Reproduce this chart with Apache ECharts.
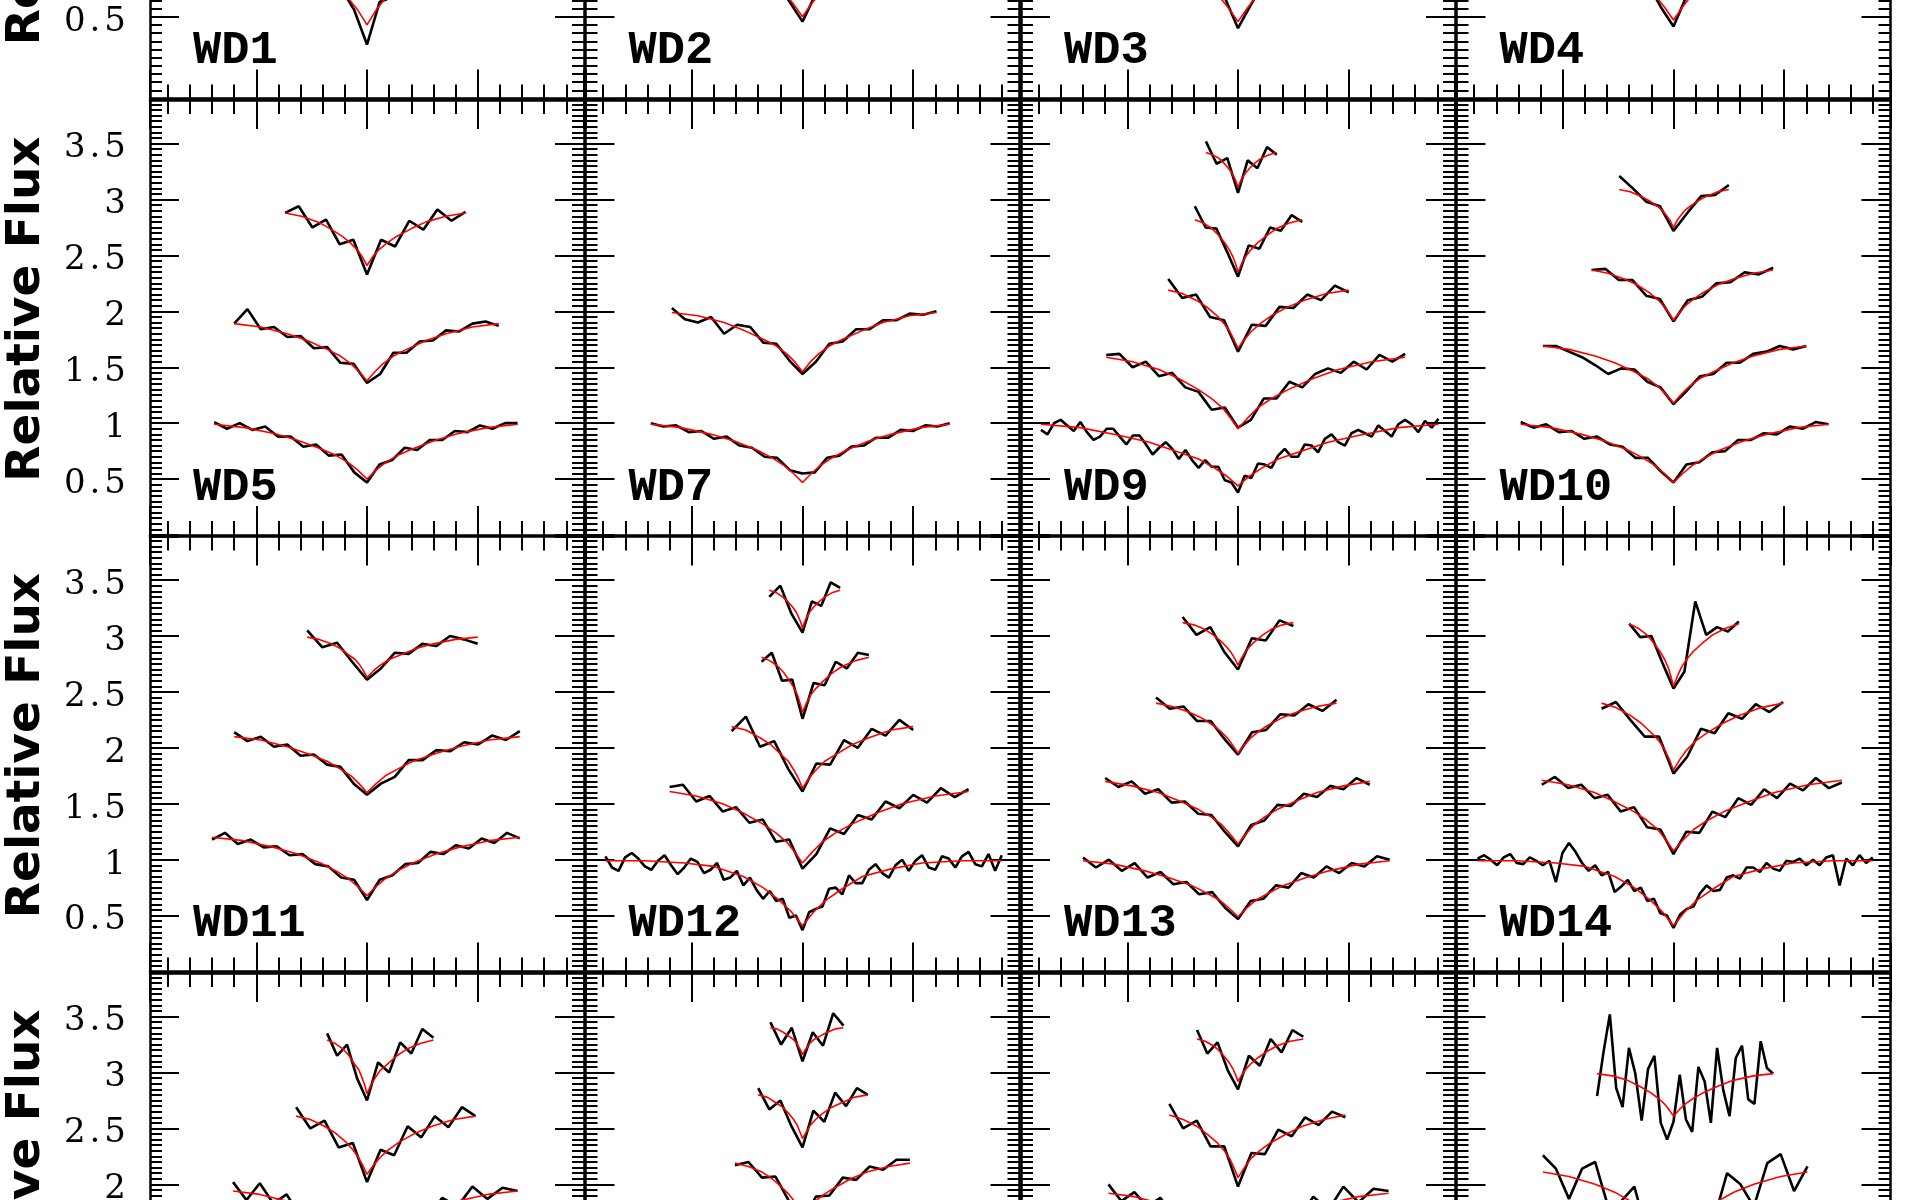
<!DOCTYPE html>
<html><head><meta charset="utf-8">
<script src="https://cdn.jsdelivr.net/npm/echarts@6/dist/echarts.min.js"></script>
<style>html,body{margin:0;padding:0;background:#fff;overflow:hidden}#c{width:1920px;height:1200px}</style>
</head><body><div id="c"></div>
<script>
// ---- data (x offsets from line centre; [xStart, xEnd, index of centre sample]) ----
const FIT_U = [-1,-0.8,-0.6,-0.45,-0.3,-0.2,-0.12,-0.06,0,0.06,0.12,0.2,0.3,0.45,0.6,0.8,1];

const WD1_X = [[-138,136,12]];
const WD1_OBS = [[1.01,.96,.99,.92,.94,.86,.87,.79,.79,.69,.67,.54,.33,.59,.62,.73,.74,.84,.83,.91,.89,.96,.94,1.01,.99]];
const WD1_FIT = [[.99,.96,.90,.83,.75,.68,.61,.54,.45,.54,.61,.68,.75,.83,.90,.96,.99]];

const WD2_X = [[-138,136,12]];
const WD2_OBS = [[1.01,.96,.99,.92,.95,.88,.90,.81,.81,.71,.71,.59,.47,.63,.67,.77,.77,.85,.84,.92,.91,.97,.95,1.00,.99]];
const WD2_FIT = [[.99,.96,.905,.845,.77,.71,.645,.58,.50,.58,.645,.71,.77,.845,.905,.96,.99]];

const WD3_X = [[-138,136,12]];
const WD3_OBS = [[.97,1.00,.93,.96,.90,.92,.84,.84,.74,.74,.65,.61,.43,.57,.70,.70,.79,.79,.88,.87,.95,.92,.98,.96,1.00]];
const WD3_FIT = [[.99,.96,.90,.84,.76,.69,.62,.55,.47,.55,.62,.69,.76,.84,.90,.96,.99]];

const WD4_X = [[-138,136,12]];
const WD4_OBS = [[1.02,.96,.98,.91,.94,.88,.88,.79,.80,.71,.70,.56,.44,.62,.65,.75,.75,.84,.84,.93,.90,.96,.93,1.00,.99]];
const WD4_FIT = [[.99,.96,.90,.84,.76,.70,.63,.56,.48,.56,.63,.70,.76,.84,.90,.96,.99]];

const WD5_X = [[-138,136,12],[-120,119,10],[-74,89,6]];
const WD5_OBS = [
 [1.01,.95,1.00,.94,.97,.88,.88,.79,.81,.71,.72,.56,.47,.63,.67,.78,.76,.85,.85,.93,.92,.98,.95,1.00,1.00],
 [1.89,2.02,1.84,1.86,1.77,1.78,1.67,1.68,1.54,1.53,1.36,1.44,1.63,1.63,1.73,1.74,1.83,1.82,1.89,1.91,1.87],
 [2.88,2.94,2.75,2.82,2.60,2.64,2.33,2.64,2.58,2.81,2.73,2.91,2.81,2.89]];
const WD5_FIT = [
 [.99,.96,.905,.845,.77,.71,.645,.58,.5,.58,.645,.71,.77,.845,.905,.96,.99],
 [1.89,1.86,1.80,1.74,1.66,1.60,1.53,1.46,1.38,1.46,1.53,1.60,1.66,1.74,1.80,1.86,1.89],
 [2.88,2.85,2.80,2.74,2.67,2.61,2.55,2.49,2.41,2.49,2.55,2.61,2.67,2.74,2.80,2.85,2.88]];

const WD7_X = [[-137,133,12],[-118,121,10]];
const WD7_OBS = [
 [1.00,.97,.98,.92,.93,.86,.88,.80,.78,.70,.69,.58,.55,.56,.69,.71,.79,.80,.87,.87,.94,.93,.98,.97,1.00],
 [2.03,1.93,1.90,1.95,1.80,1.88,1.86,1.72,1.71,1.56,1.44,1.55,1.71,1.73,1.84,1.84,1.92,1.92,1.98,1.97,2.00]];
const WD7_FIT = [
 [.99,.96,.90,.84,.76,.69,.62,.55,.47,.55,.62,.69,.76,.84,.90,.96,.99],
 [1.99,1.96,1.90,1.83,1.75,1.69,1.62,1.55,1.46,1.55,1.62,1.69,1.75,1.83,1.90,1.96,1.99]];

const WD9_X = [[-178,181,30],[-119,151,10],[-63,100,5],[-39,58,4],[-29,35,3]];
const WD9_OBS = [
 [.94,.90,1.00,1.03,.98,.93,1.01,.92,.85,.88,.95,.95,.88,.81,.89,.89,.81,.72,.78,.83,.77,.68,.76,.67,.60,.67,.61,.61,.49,.47,.38,
  .53,.51,.64,.63,.60,.71,.77,.70,.70,.81,.80,.74,.86,.90,.83,.80,.91,.94,.91,.88,.98,.93,.88,.99,1.03,.99,.92,1.02,.96,1.04],
 [1.61,1.62,1.50,1.55,1.42,1.45,1.32,1.28,1.12,1.14,.96,1.03,1.22,1.22,1.37,1.32,1.44,1.49,1.45,1.55,1.48,1.61,1.55,1.62],
 [2.29,2.12,2.15,1.95,1.92,1.64,1.88,1.87,2.04,2.03,2.15,2.10,2.23,2.17],
 [2.94,2.75,2.74,2.53,2.31,2.59,2.56,2.75,2.72,2.86,2.80],
 [3.52,3.32,3.37,3.06,3.35,3.28,3.47,3.40]];
const WD9_FIT = [
 [.99,.96,.89,.83,.74,.68,.60,.53,.44,.53,.60,.68,.74,.83,.89,.96,.99],
 [1.59,1.55,1.48,1.40,1.30,1.22,1.14,1.05,.95,1.05,1.14,1.22,1.30,1.40,1.48,1.55,1.59],
 [2.19,2.16,2.10,2.04,1.96,1.89,1.82,1.75,1.67,1.75,1.82,1.89,1.96,2.04,2.10,2.16,2.19],
 [2.82,2.79,2.74,2.68,2.61,2.55,2.49,2.43,2.35,2.43,2.49,2.55,2.61,2.68,2.74,2.79,2.82],
 [3.42,3.40,3.37,3.33,3.28,3.24,3.20,3.16,3.11,3.16,3.20,3.24,3.28,3.33,3.37,3.40,3.42]];

const WD10_X = [[-138,140,12],[-118,120,10],[-74,90,6],[-49,50,4]];
const WD10_OBS = [
 [1.01,.96,.99,.92,.93,.86,.88,.81,.79,.69,.69,.57,.47,.63,.65,.74,.75,.85,.85,.91,.90,.97,.95,1.01,.99],
 [1.69,1.69,1.64,1.59,1.52,1.44,1.49,1.48,1.37,1.32,1.17,1.29,1.42,1.44,1.54,1.54,1.62,1.64,1.69,1.66,1.69],
 [2.37,2.38,2.28,2.28,2.14,2.11,1.91,2.10,2.13,2.25,2.26,2.35,2.33,2.39],
 [3.21,3.10,2.98,2.94,2.72,2.88,3.03,3.04,3.13]];
const WD10_FIT = [
 [.99,.96,.90,.84,.76,.69,.62,.55,.47,.55,.62,.69,.76,.84,.90,.96,.99],
 [1.69,1.66,1.60,1.54,1.46,1.40,1.33,1.26,1.18,1.26,1.33,1.40,1.46,1.54,1.60,1.66,1.69],
 [2.37,2.34,2.29,2.24,2.17,2.11,2.05,1.99,1.92,1.99,2.05,2.11,2.17,2.24,2.29,2.34,2.37],
 [3.09,3.07,3.03,2.99,2.94,2.90,2.85,2.81,2.75,2.81,2.85,2.90,2.94,2.99,3.03,3.07,3.09]];

const WD11_X = [[-140,138,12],[-120,138,10],[-54,100,4]];
const WD11_OBS = [
 [1.18,1.24,1.14,1.18,1.11,1.12,1.04,1.05,.96,.94,.84,.82,.64,.82,.86,.96,.97,1.07,1.05,1.13,1.10,1.19,1.15,1.24,1.19],
 [2.14,2.06,2.10,2.01,2.03,1.93,1.94,1.85,1.83,1.68,1.58,1.68,1.74,1.89,1.89,1.98,1.97,2.05,2.03,2.11,2.07,2.15],
 [3.05,2.90,2.94,2.77,2.61,2.71,2.85,2.84,2.93,2.91,3.00,2.97,2.93]];
const WD11_FIT = [
 [1.20,1.17,1.11,1.05,.97,.90,.83,.76,.68,.76,.83,.90,.97,1.05,1.11,1.17,1.20],
 [2.10,2.07,2.01,1.95,1.88,1.81,1.75,1.68,1.60,1.68,1.75,1.81,1.88,1.95,2.01,2.07,2.10],
 [2.99,2.97,2.93,2.89,2.83,2.79,2.74,2.69,2.63,2.69,2.74,2.79,2.83,2.89,2.93,2.97,2.99]];

const WD12_X = [[-178,180,30],[-120,150,10],[-64,100,5],[-37,60,4],[-30,34,3]];
const WD12_OBS = [
 [1.03,.93,.90,1.02,1.06,1.01,.94,.91,.99,1.04,.95,.87,.93,1.01,.98,.88,.91,.97,.82,.84,.90,.77,.84,.73,.65,.72,.63,.65,.48,.50,.37,
  .53,.56,.58,.74,.75,.69,.86,.79,.79,.91,.96,.88,.84,.95,1.00,.90,.99,1.04,.93,.91,1.03,1.01,.93,1.03,1.07,.96,.94,1.05,.90,1.04],
 [1.65,1.67,1.52,1.57,1.43,1.47,1.33,1.36,1.16,1.18,.92,1.05,1.28,1.23,1.40,1.36,1.52,1.46,1.58,1.51,1.64,1.56,1.63],
 [2.15,2.28,2.01,2.06,1.81,1.61,1.86,1.85,2.07,2.00,2.17,2.11,2.25,2.16],
 [2.77,2.85,2.60,2.61,2.26,2.58,2.56,2.77,2.71,2.85,2.83],
 [3.35,3.45,3.20,3.03,3.31,3.27,3.48,3.43]];
const WD12_FIT = [
 [.99,.99,.97,.94,.85,.75,.64,.54,.41,.54,.64,.74,.85,.92,.97,.99,.99],
 [1.61,1.57,1.50,1.42,1.32,1.24,1.16,1.07,.97,1.07,1.16,1.24,1.32,1.42,1.50,1.57,1.61],
 [2.19,2.16,2.09,2.03,1.94,1.88,1.80,1.73,1.64,1.73,1.80,1.88,1.94,2.03,2.09,2.16,2.19],
 [2.81,2.78,2.73,2.67,2.59,2.53,2.47,2.40,2.32,2.40,2.47,2.53,2.59,2.67,2.73,2.78,2.81],
 [3.41,3.39,3.35,3.31,3.26,3.22,3.17,3.13,3.07,3.13,3.17,3.22,3.26,3.31,3.35,3.39,3.41]];

const WD13_X = [[-140,137,12],[-120,119,10],[-74,89,6],[-50,50,4]];
const WD13_OBS = [
 [1.02,.93,1.00,.90,.97,.84,.89,.78,.80,.69,.71,.57,.47,.63,.65,.77,.75,.88,.84,.94,.88,.97,.94,1.03,1.00],
 [1.73,1.65,1.70,1.59,1.63,1.51,1.52,1.41,1.40,1.25,1.12,1.31,1.35,1.49,1.48,1.59,1.56,1.66,1.63,1.73,1.67],
 [2.45,2.35,2.37,2.24,2.24,2.08,1.94,2.14,2.16,2.30,2.29,2.39,2.33,2.43],
 [3.17,3.01,3.08,2.86,2.70,2.98,2.96,3.14,3.09]];
const WD13_FIT = [
 [.99,.96,.90,.84,.77,.70,.64,.57,.49,.57,.64,.70,.77,.84,.90,.96,.99],
 [1.70,1.66,1.60,1.53,1.45,1.38,1.31,1.23,1.14,1.23,1.31,1.38,1.45,1.53,1.60,1.66,1.70],
 [2.40,2.37,2.32,2.27,2.20,2.14,2.08,2.02,1.95,2.02,2.08,2.14,2.20,2.27,2.32,2.37,2.40],
 [3.12,3.10,3.06,3.01,2.95,2.90,2.85,2.80,2.74,2.80,2.85,2.90,2.95,3.01,3.06,3.10,3.12]];

const WD14_X = [[-177,180,30],[-119,152,10],[-65,99,5],[-40,59,4]];
const WD14_OBS = [
 [1.01,1.04,1.00,.95,1.02,1.05,.97,.96,1.02,.99,.95,.99,.80,1.06,1.15,1.07,.97,.90,.95,.86,.89,.71,.76,.82,.72,.75,.63,.65,.52,.50,.39,
  .51,.56,.58,.70,.77,.72,.73,.84,.86,.83,.93,.93,.89,.97,.92,.90,.99,.98,1.01,.95,1.00,.95,1.02,1.04,.77,1.01,.95,1.04,.97,1.02],
 [1.67,1.74,1.64,1.67,1.55,1.58,1.43,1.47,1.29,1.27,1.05,1.25,1.24,1.43,1.38,1.55,1.49,1.63,1.55,1.68,1.62,1.73,1.64,1.69],
 [2.35,2.41,2.25,2.10,2.10,1.77,1.92,2.17,2.13,2.31,2.26,2.39,2.32,2.41],
 [3.11,2.99,3.00,2.76,2.53,2.68,3.31,3.01,3.08,3.04,3.13]];
const WD14_FIT = [
 [.99,.99,.97,.94,.85,.75,.64,.54,.41,.54,.64,.74,.85,.92,.97,.99,.99],
 [1.71,1.67,1.60,1.52,1.43,1.35,1.27,1.18,1.08,1.18,1.27,1.35,1.43,1.52,1.60,1.67,1.71],
 [2.40,2.36,2.29,2.22,2.13,2.06,1.98,1.90,1.80,1.90,1.98,2.06,2.13,2.22,2.29,2.36,2.40],
 [3.11,3.07,3.01,2.94,2.86,2.79,2.72,2.64,2.55,2.64,2.72,2.79,2.86,2.94,3.01,3.07,3.11]];

const P15_X = [[-36,60,4],[-64,98,5],[-121,136,10]];
const P15_OBS = [
 [3.35,3.15,3.25,2.95,2.75,3.09,3.00,3.27,3.17,3.39,3.31],
 [2.69,2.50,2.57,2.33,2.37,2.02,2.31,2.26,2.52,2.42,2.61,2.51,2.69,2.61],
 [2.02,1.86,2.01,1.83,1.91,1.72,1.80,1.64,1.70,1.46,1.35,1.60,1.56,1.75,1.69,1.88,1.80,1.98,1.87,1.97,1.94]];
const P15_FIT = [
 [3.29,3.26,3.21,3.15,3.07,3.02,2.95,2.89,2.81,2.89,2.95,3.02,3.07,3.15,3.21,3.26,3.29],
 [2.61,2.58,2.52,2.46,2.38,2.31,2.24,2.17,2.09,2.17,2.24,2.31,2.38,2.46,2.52,2.58,2.61],
 [1.94,1.91,1.85,1.78,1.70,1.63,1.56,1.49,1.40,1.49,1.56,1.63,1.70,1.78,1.85,1.91,1.94]];

const P16_X = [[-29,37,3],[-40,59,4],[-61,97,5]];
const P16_OBS = [
 [3.45,3.25,3.40,3.10,3.36,3.24,3.53,3.42],
 [2.86,2.67,2.75,2.52,2.33,2.66,2.56,2.82,2.70,2.86,2.80],
 [2.17,2.20,2.06,2.07,1.85,1.67,1.89,1.90,2.06,2.04,2.16,2.13,2.22,2.22]];
const P16_FIT = [
 [3.40,3.39,3.36,3.33,3.30,3.27,3.23,3.20,3.16,3.20,3.23,3.27,3.30,3.33,3.36,3.39,3.40],
 [2.80,2.78,2.73,2.69,2.63,2.58,2.53,2.47,2.41,2.47,2.53,2.58,2.63,2.69,2.73,2.78,2.80],
 [2.19,2.16,2.11,2.05,1.97,1.91,1.85,1.78,1.70,1.78,1.85,1.91,1.97,2.05,2.11,2.16,2.19]];

const P17_X = [[-37,59,4],[-62,97,5],[-117,136,10]];
const P17_OBS = [
 [3.38,3.17,3.27,3.02,2.85,3.15,3.06,3.30,3.18,3.38,3.32],
 [2.72,2.50,2.57,2.34,2.34,1.98,2.28,2.27,2.49,2.43,2.60,2.53,2.65,2.60],
 [2.00,1.85,1.93,1.80,1.88,1.72,1.78,1.64,1.67,1.47,1.37,1.58,1.56,1.73,1.69,1.89,1.77,1.98,1.84,1.96,1.94]];
const P17_FIT = [
 [3.30,3.28,3.24,3.19,3.13,3.08,3.03,2.98,2.92,2.98,3.03,3.08,3.13,3.19,3.24,3.28,3.30],
 [2.62,2.58,2.52,2.45,2.37,2.30,2.23,2.15,2.06,2.15,2.23,2.30,2.37,2.45,2.52,2.58,2.62],
 [1.92,1.89,1.83,1.77,1.69,1.62,1.55,1.48,1.40,1.48,1.55,1.62,1.69,1.77,1.83,1.89,1.92]];

const P18_X = [[-69,90,12],[-118,121,10]];
const P18_OBS = [
 [2.79,3.18,3.52,2.86,2.69,3.22,2.99,2.57,3.03,3.15,2.55,2.40,2.56,2.98,2.58,2.47,3.05,2.92,2.55,3.22,2.84,2.61,3.13,3.24,2.76,2.72,3.28,3.04,2.99],
 [2.26,2.14,1.87,2.14,2.20,1.80,1.85,1.98,1.56,1.76,1.45,1.81,1.66,1.68,2.10,2.00,1.80,2.19,2.27,1.94,2.16]];
const P18_FIT = [
 [2.99,2.97,2.93,2.88,2.82,2.77,2.72,2.67,2.61,2.67,2.72,2.77,2.82,2.88,2.93,2.97,2.99],
 [2.11,2.07,2.00,1.93,1.83,1.76,1.68,1.60,1.50,1.60,1.68,1.76,1.83,1.93,2.00,2.07,2.11]];

const PANEL_LABELS = [['WD1','WD2','WD3','WD4'],['WD5','WD7','WD9','WD10'],['WD11','WD12','WD13','WD14'],['','','','']];
const ROW_YMAX = [2.66, 3.89, 3.89, 3.89];
const X_RANGE = [-196, 196];
const Y_AXIS_TITLE = 'Relative Flux';

// ---- layout / style ----
const LEFT0 = 150, COL_STEP = 435.5, PANEL_W = 434;
const TOP0 = 100, ROW_STEP = 436.5, PANEL_H = 435;

const PANELS = [
 [[WD1_X,WD1_OBS,WD1_FIT],[WD2_X,WD2_OBS,WD2_FIT],[WD3_X,WD3_OBS,WD3_FIT],[WD4_X,WD4_OBS,WD4_FIT]],
 [[WD5_X,WD5_OBS,WD5_FIT],[WD7_X,WD7_OBS,WD7_FIT],[WD9_X,WD9_OBS,WD9_FIT],[WD10_X,WD10_OBS,WD10_FIT]],
 [[WD11_X,WD11_OBS,WD11_FIT],[WD12_X,WD12_OBS,WD12_FIT],[WD13_X,WD13_OBS,WD13_FIT],[WD14_X,WD14_OBS,WD14_FIT]],
 [[P15_X,P15_OBS,P15_FIT],[P16_X,P16_OBS,P16_FIT],[P17_X,P17_OBS,P17_FIT],[P18_X,P18_OBS,P18_FIT]]
];

function labelFormatter(v) {
  const k = Math.round(v * 2);
  if (Math.abs(v * 2 - k) > 1e-6 || k <= 0) return '';
  const s = String(Math.round(v * 10) / 10);
  return s.split('').map(ch => '{d|' + ch + '}').join('');
}

function axisDef(gi, dim, pos, major, min, max, step, labels) {
  const a = {
    type: 'value', gridIndex: gi, position: pos, min: min, max: max,
    axisLine: { show: major, onZero: false, lineStyle: { color: '#000', width: 2.5 } },
    axisTick: { show: true, inside: true, length: major ? 29 : (dim === 'x' ? 14 : 12),
                lineStyle: { color: '#000', width: 2 } },
    minorTick: { show: false }, splitLine: { show: false }, splitArea: { show: false },
    axisLabel: { show: false }, silent: true, axisPointer: { show: false }
  };
  if (dim === 'y') { a.interval = step; }          // y axes start at 0, a multiple of the step
  else { a.minInterval = step; a.maxInterval = step; a.splitNumber = 5; }
  if (labels) {
    a.axisLabel = {
      show: true, margin: 22, formatter: labelFormatter,
      rich: { d: { fontFamily: 'DejaVu Serif', fontSize: 34, color: '#000', padding: [10, 2, 0, 2] } }
    };
  }
  return a;
}

const grids = [], xAxis = [], yAxis = [], series = [], graphic = [];
for (let r = 0; r < 4; r++) {
  const top = TOP0 + (r - 1) * ROW_STEP;
  graphic.push({
    type: 'text', x: 27, y: top + 209, rotation: Math.PI / 2, silent: true,
    style: { text: Y_AXIS_TITLE, font: 'bold 47px "DejaVu Sans"', fill: '#000',
             align: 'center', verticalAlign: 'middle', textAlign: 'center', textVerticalAlign: 'middle' }
  });
  for (let c = 0; c < 4; c++) {
    const gi = grids.length;
    const left = LEFT0 + c * COL_STEP;
    grids.push({ left: left, top: top, width: PANEL_W, height: PANEL_H, show: false,
                 containLabel: false, outerBoundsMode: 'none' });
    const ymax = ROW_YMAX[r];
    const xi = xAxis.length, yi = yAxis.length;
    ['bottom', 'top'].forEach(p => {
      xAxis.push(axisDef(gi, 'x', p, true, X_RANGE[0], X_RANGE[1], 100, false));
      xAxis.push(axisDef(gi, 'x', p, false, X_RANGE[0], X_RANGE[1], 20, false));
    });
    ['left', 'right'].forEach(p => {
      yAxis.push(axisDef(gi, 'y', p, true, 0, ymax, 0.5, p === 'left' && c === 0));
      yAxis.push(axisDef(gi, 'y', p, false, 0, ymax, 0.05, false));
    });
    const [xs, obs, fits] = PANELS[r][c];
    for (let s = 0; s < obs.length; s++) {
      const [x0, x1, L] = xs[s];
      const ys = obs[s], R = ys.length - 1 - L;
      const obsData = ys.map((y, i) => [i <= L ? x0 * (L - i) / L : x1 * (i - L) / R, y]);
      const fitData = FIT_U.map((u, j) => [u < 0 ? -u * x0 : u * x1, fits[s][j]]);
      series.push({ type: 'line', xAxisIndex: xi, yAxisIndex: yi, data: obsData, symbol: 'none',
                    showSymbol: false, silent: true, animation: false, z: 3,
                    lineStyle: { color: '#000', width: 2.6 } });
      series.push({ type: 'line', xAxisIndex: xi, yAxisIndex: yi, data: fitData, symbol: 'none',
                    showSymbol: false, silent: true, animation: false, z: 4,
                    lineStyle: { color: '#ff0000', width: 1.6 } });
    }
    if (PANEL_LABELS[r][c]) {
      graphic.push({
        type: 'text', x: left + 43, y: top + PANEL_H - 47, silent: true,
        style: { text: PANEL_LABELS[r][c], font: 'bold 47px "Liberation Mono"', fill: '#000',
                 align: 'left', verticalAlign: 'middle', textAlign: 'left', textVerticalAlign: 'middle' }
      });
    }
  }
}

const chart = echarts.init(document.getElementById('c'), null, { renderer: 'canvas', width: 1920, height: 1200 });
chart.setOption({
  animation: false, backgroundColor: '#fff',
  grid: grids, xAxis: xAxis, yAxis: yAxis, series: series, graphic: graphic
});
</script>
</body></html>
